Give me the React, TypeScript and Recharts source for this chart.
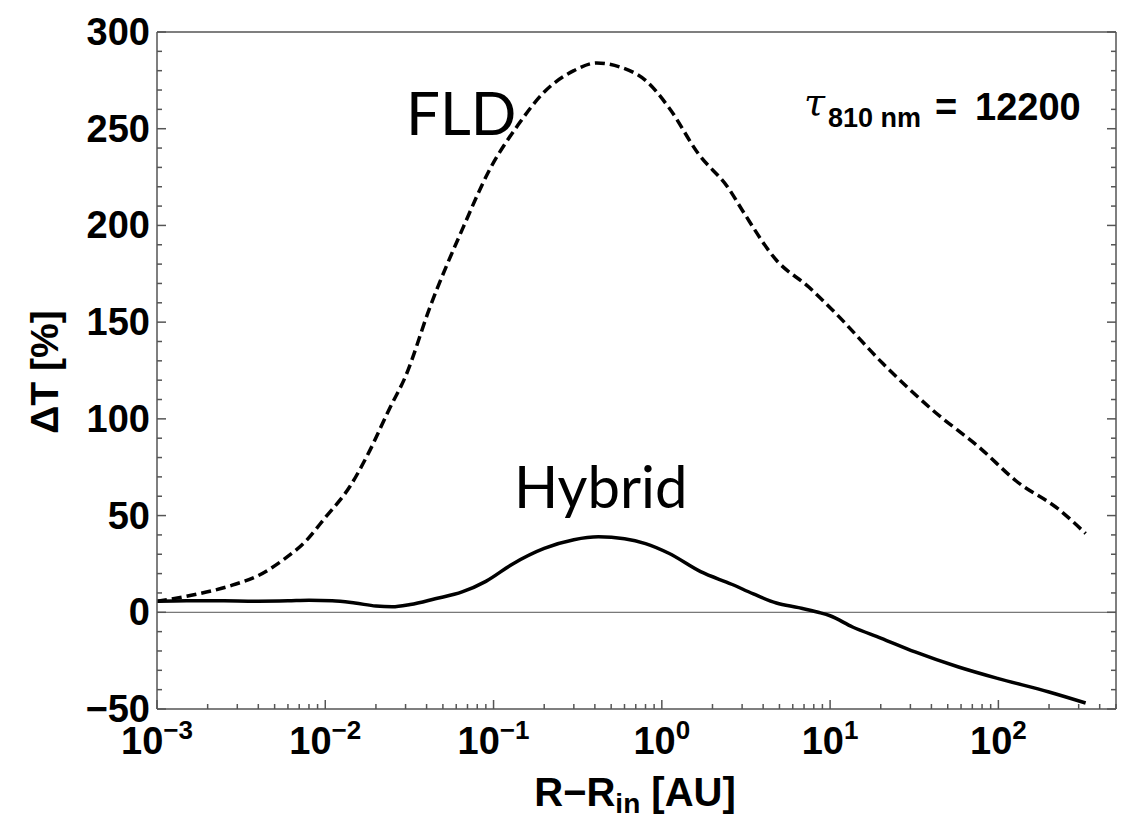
import React from 'react';
import { LineChart, Line, XAxis, YAxis, ReferenceLine } from 'recharts';

// R - R_in [AU] and Delta T [%]
const fldR = [0.001, 0.0016, 0.0028, 0.004, 0.0056, 0.0077, 0.01, 0.014, 0.018, 0.024, 0.03, 0.042, 0.066, 0.095, 0.14, 0.2, 0.3, 0.41, 0.56, 0.8, 1.1, 1.65, 2.5, 3.0, 4.8, 7.5, 10.4, 20.6, 40.7, 80, 127, 230, 330];
const fldDT = [5.7, 8.8, 14, 19, 27, 37, 49, 65, 82, 105, 122, 158, 199, 229, 252, 269, 280, 284, 282, 275, 261, 237, 219, 208, 182, 168, 156, 128.6, 104.5, 84, 68, 53, 40.7];

const hybR = [0.001, 0.0015, 0.0025, 0.004, 0.006, 0.008, 0.011, 0.015, 0.02, 0.025, 0.032, 0.045, 0.065, 0.09, 0.13, 0.2, 0.3, 0.42, 0.6, 0.8, 1.1, 1.7, 2.6, 3.5, 4.8, 6.5, 8.5, 10, 13.6, 20, 32, 58, 100, 200, 330];
const hybDT = [5.7, 6.0, 5.9, 5.7, 5.9, 6.2, 6.0, 4.8, 3.2, 2.8, 4, 7, 10.5, 16, 25, 33, 37.5, 39, 38, 35.5, 30.5, 21, 14.5, 9.5, 4.8, 2.4, 0, -1.8, -7.6, -13.3, -20.5, -28.3, -34.3, -41.2, -46.9];

const xMajor = [0.001, 0.01, 0.1, 1, 10, 100];
const xExp = ['\u22123', '\u22122', '\u22121', '0', '1', '2'];
const yMajor = [-50, 0, 50, 100, 150, 200, 250, 300];
const yTicks = [-50, -40, -30, -20, -10, 0, 10, 20, 30, 40, 50, 60, 70, 80, 90, 100, 110, 120, 130, 140, 150, 160, 170, 180, 190, 200, 210, 220, 230, 240, 250, 260, 270, 280, 290, 300];

const xTicks: number[] = [];
xMajor.forEach((d) => {
  for (let k = 1; k <= 9; k++) {
    const v = d * k;
    if (v <= 500) xTicks.push(v);
  }
});

const fldData = fldR.map((r, i) => ({ r, v: fldDT[i] }));
const hybData = hybR.map((r, i) => ({ r, v: hybDT[i] }));

const FRAME = '#555';
const FONT = '"Liberation Sans", Arial, sans-serif';

const isMajorX = (v: number) => xMajor.some((m) => Math.abs(m - v) / m < 1e-6);

function BottomTick(props: any) {
  const { x, y, payload } = props;
  const v = payload.value;
  const major = isMajorX(v);
  const idx = xMajor.findIndex((m) => Math.abs(m - v) / m < 1e-6);
  return (
    <g>
      <line x1={x} x2={x} y1={y} y2={y - (major ? 9 : 5)} stroke={FRAME} strokeWidth={1.5} />
      {major && (
        <text x={x} y={y + 45} textAnchor="middle" fontFamily={FONT} fontWeight="bold" fill="#000">
          <tspan fontSize={38}>10</tspan>
          <tspan fontSize={26} dy={-15}>{xExp[idx]}</tspan>
        </text>
      )}
    </g>
  );
}

function TopTick(props: any) {
  const { x, y, payload } = props;
  const major = isMajorX(payload.value);
  return <line x1={x} x2={x} y1={y} y2={y + (major ? 9 : 5)} stroke={FRAME} strokeWidth={1.5} />;
}

function LeftTick(props: any) {
  const { x, y, payload } = props;
  const v = payload.value;
  const major = yMajor.includes(v);
  return (
    <g>
      <line x1={x} x2={x + (major ? 9 : 5)} y1={y} y2={y} stroke={FRAME} strokeWidth={1.5} />
      {major && (
        <text x={x - 7} y={y + 13} textAnchor="end" fontFamily={FONT} fontWeight="bold" fontSize={38} fill="#000">
          {v < 0 ? '\u2212' + Math.abs(v) : String(v)}
        </text>
      )}
    </g>
  );
}

function RightTick(props: any) {
  const { x, y, payload } = props;
  const major = yMajor.includes(payload.value);
  return <line x1={x} x2={x - (major ? 9 : 5)} y1={y} y2={y} stroke={FRAME} strokeWidth={1.5} />;
}

export default function App() {
  const W = 1135;
  const H = 814;
  return (
    <div style={{ position: 'absolute', left: 0, top: 0, width: W, height: H, background: '#fff', overflow: 'hidden' }}>
      <LineChart width={W} height={H} margin={{ top: 0, right: 0, bottom: 0, left: 0 }}>
        <XAxis
          xAxisId="b"
          dataKey="r"
          type="number"
          scale="log"
          domain={[0.001, 500]}
          allowDataOverflow
          ticks={xTicks}
          interval={0}
          height={105}
          tickSize={0}
          tickMargin={0}
          tickLine={false}
          axisLine={{ stroke: FRAME, strokeWidth: 1.5 }}
          tick={<BottomTick />}
        />
        <XAxis
          xAxisId="t"
          orientation="top"
          type="number"
          scale="log"
          domain={[0.001, 500]}
          allowDataOverflow
          ticks={xTicks}
          interval={0}
          height={32}
          tickSize={0}
          tickMargin={0}
          tickLine={false}
          axisLine={{ stroke: FRAME, strokeWidth: 1.5 }}
          tick={<TopTick />}
        />
        <YAxis
          yAxisId="l"
          type="number"
          domain={[-50, 300]}
          allowDataOverflow
          ticks={yTicks}
          interval={0}
          width={157}
          tickSize={0}
          tickMargin={0}
          tickLine={false}
          axisLine={{ stroke: FRAME, strokeWidth: 1.5 }}
          tick={<LeftTick />}
        />
        <YAxis
          yAxisId="r"
          orientation="right"
          type="number"
          domain={[-50, 300]}
          allowDataOverflow
          ticks={yTicks}
          interval={0}
          width={19}
          tickSize={0}
          tickMargin={0}
          tickLine={false}
          axisLine={{ stroke: FRAME, strokeWidth: 1.5 }}
          tick={<RightTick />}
        />
        <ReferenceLine xAxisId="b" yAxisId="l" y={0} stroke="#555" strokeWidth={1} />
        <Line
          xAxisId="b"
          yAxisId="l"
          data={fldData}
          dataKey="v"
          type="monotone"
          stroke="#000"
          strokeWidth={3.5}
          strokeDasharray="10 5"
          dot={false}
          isAnimationActive={false}
        />
        <Line
          xAxisId="b"
          yAxisId="l"
          data={hybData}
          dataKey="v"
          type="monotone"
          stroke="#000"
          strokeWidth={3.5}
          dot={false}
          isAnimationActive={false}
        />
      </LineChart>
      <svg width={W} height={H} style={{ position: 'absolute', left: 0, top: 0, pointerEvents: 'none' }}>
        <text x={406} y={135} fontFamily="Lato, sans-serif" fontSize={60} fill="#000">FLD</text>
        <text x={514} y={508} fontFamily="Lato, sans-serif" fontSize={58} fill="#000">Hybrid</text>
        <text fontFamily={FONT} fontWeight="bold" fill="#000">
          <tspan x={804} y={115} fontFamily="DejaVu Serif, serif" fontStyle="italic" fontWeight="normal" fontSize={38}>τ</tspan>
          <tspan x={828} y={127} fontSize={27}>810 nm</tspan>
          <tspan x={935} y={120} fontSize={38}>=</tspan>
          <tspan x={975} y={120} fontSize={38}>12200</tspan>
        </text>
        <text x={635} y={806} textAnchor="middle" fontFamily={FONT} fontWeight="bold" fill="#000">
          <tspan fontSize={40}>R−R</tspan>
          <tspan fontSize={28} dy={7}>in</tspan>
          <tspan fontSize={40} dy={-7}> [AU]</tspan>
        </text>
        <text x={58} y={372} textAnchor="middle" transform="rotate(-90 58 372)" fontFamily={FONT} fontWeight="bold" fontSize={39} fill="#000">
          ΔT [%]
        </text>
      </svg>
    </div>
  );
}
